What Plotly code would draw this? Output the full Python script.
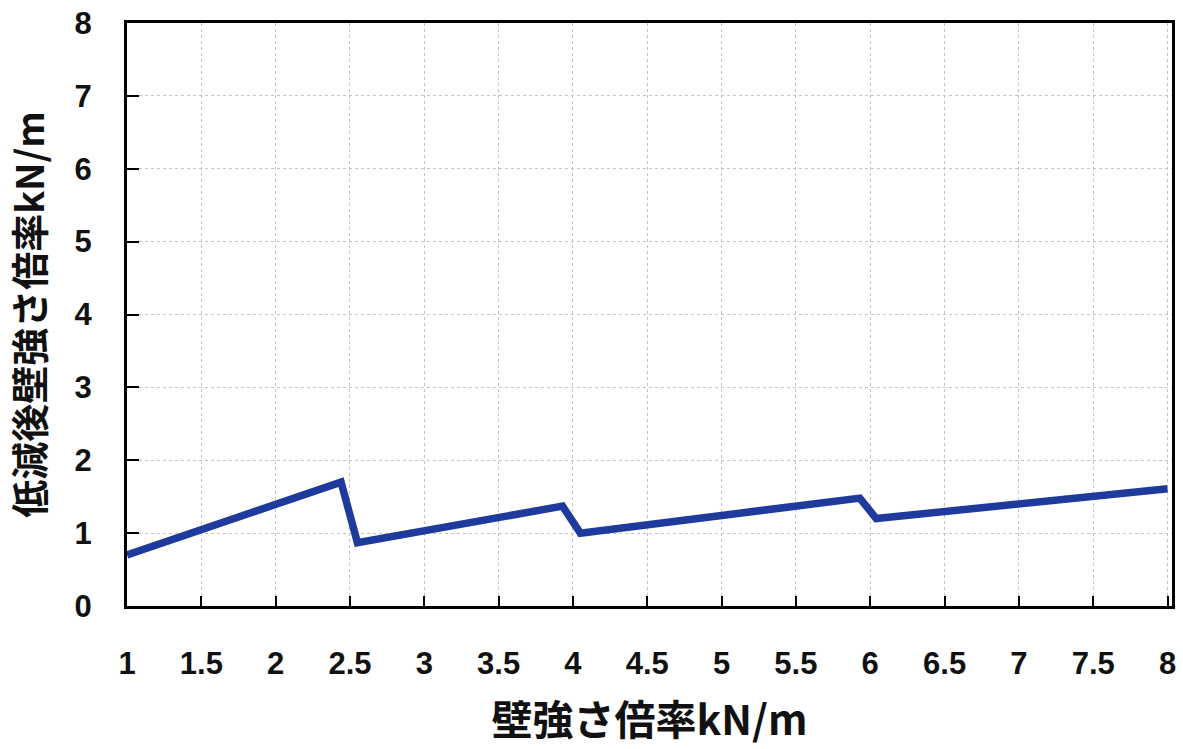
import plotly.graph_objects as go

wall_ratio = [1.0, 2.44, 2.55, 3.93, 4.05, 5.93, 6.04, 8.0]
reduced_ratio = [0.70, 1.70, 0.87, 1.37, 1.00, 1.48, 1.20, 1.61]

x_ticks = [1, 1.5, 2, 2.5, 3, 3.5, 4, 4.5, 5, 5.5, 6, 6.5, 7, 7.5, 8]
y_ticks = [0, 1, 2, 3, 4, 5, 6, 7, 8]

tick_font = dict(family="Liberation Sans, Arial", size=31, color="#111111", weight="bold")

fig = go.Figure()
fig.add_trace(go.Scatter(
    x=wall_ratio, y=reduced_ratio, mode="lines",
    line=dict(color="#1e3a9c", width=7.5),
    showlegend=False,
))

fig.update_layout(
    width=1183, height=749,
    margin=dict(l=127, r=11, t=23, b=143),
    paper_bgcolor="white", plot_bgcolor="white",
)

fig.update_xaxes(
    range=[1, 8.03], tickvals=x_ticks, ticktext=[f"{v:g}" for v in x_ticks],
    tickfont=tick_font, ticklabelstandoff=28, ticklabeloverflow="allow",
    ticks="inside", ticklen=10, tickwidth=2, tickcolor="black",
    showline=True, linecolor="black", linewidth=3, mirror=True,
    showgrid=True, gridcolor="#c4c4c4", griddash="dot", gridwidth=1,
    zeroline=False, automargin=False,
    title=dict(text="<b>壁強さ倍率kN/m</b>",
               font=dict(family="Noto Sans CJK JP, Noto Sans", size=41, color="#111111"),
               standoff=27),
)
fig.update_yaxes(
    range=[0, 8], tickvals=y_ticks, ticktext=[str(v) for v in y_ticks],
    tickfont=tick_font, ticklabelstandoff=26, ticklabeloverflow="allow",
    ticks="inside", ticklen=12, tickwidth=2, tickcolor="black",
    showline=True, linecolor="black", linewidth=3, mirror=True,
    showgrid=True, gridcolor="#c4c4c4", griddash="dot", gridwidth=1,
    zeroline=False, automargin=False,
    title=dict(text="<b>低減後壁強さ倍率kN/m</b>",
               font=dict(family="Noto Sans CJK JP, Noto Sans", size=38, color="#111111"),
               standoff=26),
)

fig.write_html(
    "out.html",
    config={"displayModeBar": False},
    post_script="document.body.style.margin='0';document.body.style.overflow='hidden';",
)
